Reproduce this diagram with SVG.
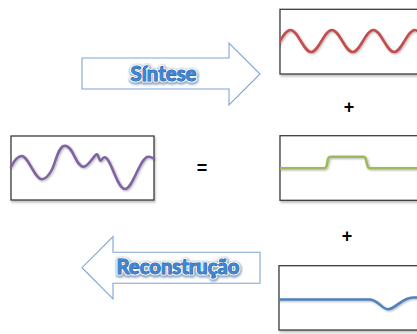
<svg xmlns="http://www.w3.org/2000/svg" width="417" height="334" viewBox="0 0 417 334">
<defs>
<style>
.box{fill:#fff;stroke:#3c3c3c;stroke-width:1.3;filter:url(#sh)}
.wave{fill:none;stroke-width:2.6;stroke-linecap:round;stroke-linejoin:round;filter:url(#wsh)}
.arrow{fill:#fff;stroke:#7ea5d5;stroke-width:1.1}
.lbl{font-family:Lato,"Liberation Sans",sans-serif;font-weight:bold;font-size:20px;text-anchor:middle}
.halo{fill:#5b7ea6;stroke:#5b7ea6;stroke-width:5;stroke-linejoin:round;filter:url(#blur);opacity:0.75}
.white{fill:#fff;stroke:#fff;stroke-width:3.2;stroke-linejoin:round}
.face{fill:#3f86d4;stroke:#1c5aa0;stroke-width:1;paint-order:stroke}
.op{font-family:"Liberation Sans",Arial,sans-serif;font-weight:bold;font-size:18px;text-anchor:middle;fill:#000}
</style>
<filter id="sh" x="-10%" y="-10%" width="130%" height="130%">
<feGaussianBlur in="SourceAlpha" stdDeviation="1.2"/>
<feOffset dx="1" dy="1.5" result="b"/>
<feComponentTransfer><feFuncA type="linear" slope="0.25"/></feComponentTransfer>
<feMerge><feMergeNode/><feMergeNode in="SourceGraphic"/></feMerge>
</filter>
<filter id="wsh" x="-10%" y="-20%" width="130%" height="150%">
<feGaussianBlur in="SourceAlpha" stdDeviation="0.8"/>
<feOffset dx="0.5" dy="1.2"/>
<feComponentTransfer><feFuncA type="linear" slope="0.3"/></feComponentTransfer>
<feMerge><feMergeNode/><feMergeNode in="SourceGraphic"/></feMerge>
</filter>
<filter id="blur" x="-10%" y="-30%" width="120%" height="160%">
<feGaussianBlur stdDeviation="1" />
</filter>
<clipPath id="c1"><rect x="280" y="9" width="140" height="65"/></clipPath>
<clipPath id="c2"><rect x="280" y="136" width="140" height="64"/></clipPath>
<clipPath id="c3"><rect x="279" y="266" width="140" height="64"/></clipPath>
</defs>
<rect width="417" height="334" fill="#fff"/>

<g id="arrows">
<g id="sintese">
<path class="arrow" d="M82,58 L229,58 L229,43 L260,74 L229,105 L229,89 L82,89 Z"/>
<g class="lbl">
<text class="halo" x="164" y="82" textLength="66" lengthAdjust="spacingAndGlyphs">Síntese</text>
<text class="white" x="163.5" y="81" textLength="66" lengthAdjust="spacingAndGlyphs">Síntese</text>
<text class="face" x="163.5" y="81" textLength="66" lengthAdjust="spacingAndGlyphs">Síntese</text>
</g>
</g>
<g id="reconstrucao">
<path class="arrow" d="M260,252.3 L113,252.3 L113,236.7 L82,267.7 L113,299 L113,283.3 L260,283.3 Z"/>
<g class="lbl">
<text class="halo" x="178.5" y="274.5" textLength="123" lengthAdjust="spacingAndGlyphs">Reconstrução</text>
<text class="white" x="178" y="273.5" textLength="123" lengthAdjust="spacingAndGlyphs">Reconstrução</text>
<text class="face" x="178" y="273.5" textLength="123" lengthAdjust="spacingAndGlyphs">Reconstrução</text>
</g>
</g>
</g>

<g id="signal">
<rect class="box" x="11" y="136" width="143" height="64"/>
<path class="wave" stroke="#8064a2" d="M11,167 C14,161 17,156 21.7,156 C28,156 35,179.3 41.7,179.3 C46,179.3 49,175 51.7,170 C56,162 58,145.7 65,145.7 C73,145.7 76,166.7 83.3,166.7 C89,166.7 93,156 96.7,154.3 C98.5,154 99,160.7 100.5,160.7 C101.5,160.7 102.5,157.3 104.5,157.3 C111,157.3 117,189 125,189 C133,189 140,156.7 148.3,156.7 C150.5,156.7 152,157.5 153.5,158.3"/>
</g>

<g id="eq"><text class="op" x="202" y="174">=</text></g>

<g id="comp1">
<rect class="box" x="280" y="9.3" width="145" height="64.7"/>
<path class="wave" stroke="#c0504d" clip-path="url(#c1)" d="M269.625,52 C277.095,52 282.905,30 290.375,30 S303.655,52 311.125,52 S324.405,30 331.875,30 S345.155,52 352.625,52 S365.905,30 373.375,30 S386.655,52 394.125,52 S407.405,30 414.875,30 S428.155,52 435.625,52"/>
</g>

<g id="plus1"><text class="op" x="349" y="113">+</text></g>

<g id="comp2">
<rect class="box" x="280" y="135.7" width="145" height="64.6"/>
<path class="wave" stroke="#9bbb59" clip-path="url(#c2)" d="M280,168.3 L324.5,168.3 Q326,168.3 326.8,165 L328,159 Q328.8,156.7 331,156.7 L363,156.7 Q365,156.7 365.8,159 L367.3,165 Q368,168.3 370,168.3 L420,168.3"/>
</g>

<g id="plus2"><text class="op" x="347" y="242">+</text></g>

<g id="comp3">
<rect class="box" x="279" y="265.7" width="146" height="64.3"/>
<path class="wave" stroke="#4f81bd" clip-path="url(#c3)" d="M279,299.5 L369,299.5 C378,299.5 382,309.3 388,309.3 C395,309.3 402,297.5 413,297.5 L420,297.5"/>
</g>
</svg>
